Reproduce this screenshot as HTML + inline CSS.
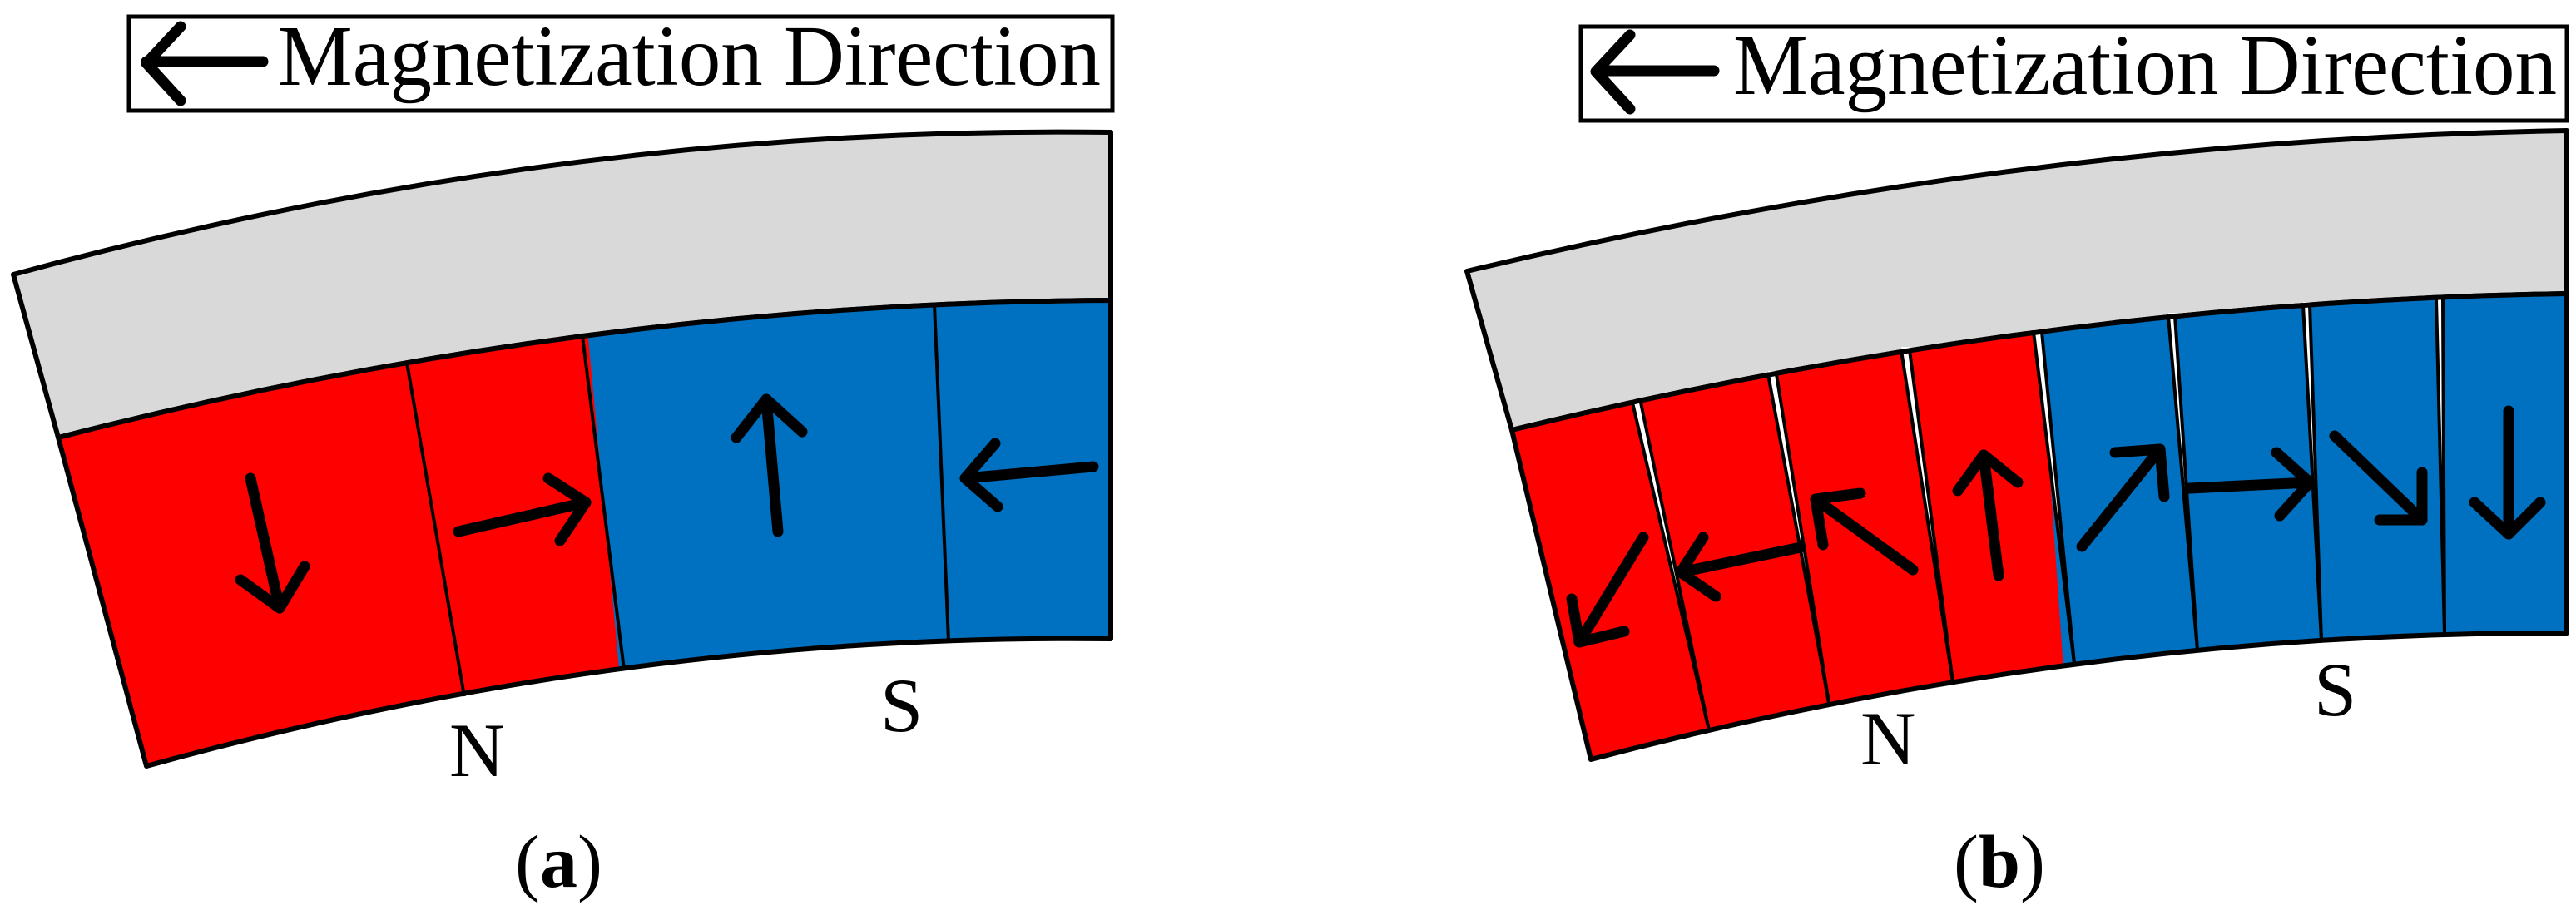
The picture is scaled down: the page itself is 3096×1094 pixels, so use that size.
<!DOCTYPE html>
<html><head><style>html,body{margin:0;padding:0;background:#fff}svg{display:block}</style></head><body>
<svg width="3096" height="1094" viewBox="0 0 3096 1094" xmlns="http://www.w3.org/2000/svg">
<defs>
<clipPath id="ca"><path d="M70,526 Q702,364 1335,361 L1335,768 Q755,761 176,921 Z"/></clipPath>
<clipPath id="cb"><path d="M1817,517 Q2451,363 3085,353 L3085,761 Q2498,759 1912,913 Z"/></clipPath>
</defs>
<g font-family="Liberation Serif, serif" fill="#000">
<!-- Panel a -->
<rect x="155" y="20" width="1182" height="113" fill="#fff" stroke="#000" stroke-width="5"/>
<g stroke="#000" stroke-width="13" stroke-linecap="round" stroke-linejoin="round" fill="none">
<line x1="316" y1="74" x2="176" y2="74"/><polyline points="217,32 176,76 217,121"/>
</g>
<text x="334" y="102" font-size="104" textLength="989" lengthAdjust="spacingAndGlyphs">Magnetization Direction</text>
<path d="M16,330 Q675,150 1335,159 L1335,361 Q702,364 70,526 Z" fill="#d9d9d9" stroke="#000" stroke-width="6" stroke-linejoin="round"/>
<g clip-path="url(#ca)">
<polygon points="0,300 720,300 790,1050 0,1050" fill="#ff0000"/>
<polygon points="697,300 1400,300 1400,1050 767,1050" fill="#0070c0"/>
</g>
<g stroke="#000" stroke-width="4"><line x1="489" y1="436" x2="558" y2="837"/><line x1="700" y1="404" x2="750" y2="805"/><line x1="1123" y1="366" x2="1140" y2="771"/></g>
<path d="M70,526 Q702,364 1335,361 L1335,768 Q755,761 176,921 Z" fill="none" stroke="#000" stroke-width="6" stroke-linejoin="round"/>
<g stroke="#000" stroke-width="13" stroke-linecap="round" stroke-linejoin="round" fill="none">
<line x1="301" y1="575" x2="336" y2="731"/><polyline points="289,697 336,731 366,681"/>
<line x1="551" y1="639" x2="704" y2="604"/><polyline points="659,575 704,604 673,650"/>
<line x1="935" y1="639" x2="921" y2="480"/><polyline points="885,526 921,480 964,519"/>
<line x1="1314" y1="561" x2="1160" y2="575"/><polyline points="1196,533 1160,575 1199,609"/>
</g>
<text x="540" y="933" font-size="92">N</text>
<text x="1058" y="879" font-size="92">S</text>
<text x="619" y="1066" font-size="90">(<tspan font-weight="bold">a</tspan>)</text>

<!-- Panel b -->
<rect x="1900" y="32" width="1185" height="113" fill="#fff" stroke="#000" stroke-width="5"/>
<g stroke="#000" stroke-width="13" stroke-linecap="round" stroke-linejoin="round" fill="none">
<line x1="2060" y1="85" x2="1920" y2="85"/><polyline points="1959,42 1918,86 1959,131"/>
</g>
<text x="2083" y="113" font-size="104" textLength="990" lengthAdjust="spacingAndGlyphs">Magnetization Direction</text>
<path d="M1763,326 Q2424,168 3085,157 L3085,353 Q2451,363 1817,517 Z" fill="#d9d9d9" stroke="#000" stroke-width="6" stroke-linejoin="round"/>
<g clip-path="url(#cb)">
<polygon points="1700,300 2455,300 2500,950 1700,950" fill="#ff0000"/>
<polygon points="2445,300 3100,300 3100,950 2490,950" fill="#0070c0"/>
</g>
<!-- wedge gaps: white polygon between two converging black lines -->
<g fill="#fff" stroke="none">
<polygon points="1962,480 1972,480 2054,878"/>
<polygon points="2125,446 2135,446 2198,845"/>
<polygon points="2285,417 2295,417 2347,820"/>
<polygon points="2444,395 2454,395 2493,798"/>
<polygon points="2606,376 2614,376 2641,782"/>
<polygon points="2768,363 2776,363 2790,770"/>
<polygon points="2928,356 2936,356 2938,762"/>
</g>
<g stroke="#000" stroke-width="4">
<line x1="1962" y1="484" x2="2054" y2="878"/><line x1="1972" y1="484" x2="2054" y2="878"/>
<line x1="2125" y1="450" x2="2198" y2="845"/><line x1="2135" y1="450" x2="2198" y2="845"/>
<line x1="2285" y1="421" x2="2347" y2="820"/><line x1="2295" y1="421" x2="2347" y2="820"/>
<line x1="2444" y1="399" x2="2493" y2="798"/><line x1="2454" y1="399" x2="2493" y2="798"/>
<line x1="2606" y1="380" x2="2641" y2="782"/><line x1="2614" y1="380" x2="2641" y2="782"/>
<line x1="2768" y1="367" x2="2790" y2="770"/><line x1="2776" y1="367" x2="2790" y2="770"/>
<line x1="2928" y1="360" x2="2938" y2="762"/><line x1="2936" y1="360" x2="2938" y2="762"/>
</g>
<path d="M1817,517 Q2451,363 3085,353 L3085,761 Q2498,759 1912,913 Z" fill="none" stroke="#000" stroke-width="6" stroke-linejoin="round"/>
<g stroke="#000" stroke-width="13" stroke-linecap="round" stroke-linejoin="round" fill="none">
<line x1="1975" y1="646" x2="1898" y2="772"/><polyline points="1889,720 1898,772 1952,759"/>
<line x1="2164" y1="658" x2="2020" y2="688"/><polyline points="2047,646 2020,688 2062,717"/>
<line x1="2299" y1="685" x2="2182" y2="600"/><polyline points="2191,655 2182,600 2236,593"/>
<line x1="2402" y1="692" x2="2384" y2="547"/><polyline points="2353,590 2384,547 2425,580"/>
<line x1="2502" y1="657" x2="2596" y2="540"/><polyline points="2542,544 2596,540 2601,597"/>
<line x1="2632" y1="587" x2="2776" y2="580"/><polyline points="2736,544 2776,580 2740,620"/>
<line x1="2806" y1="524" x2="2911" y2="625"/><polyline points="2860,625 2911,625 2911,568"/>
<line x1="3015" y1="494" x2="3015" y2="642"/><polyline points="2974,604 3015,642 3053,604"/>
</g>
<text x="2236" y="919" font-size="92">N</text>
<text x="2781" y="860" font-size="92">S</text>
<text x="2348" y="1066" font-size="90">(<tspan font-weight="bold">b</tspan>)</text>
</g>
</svg>
</body></html>
